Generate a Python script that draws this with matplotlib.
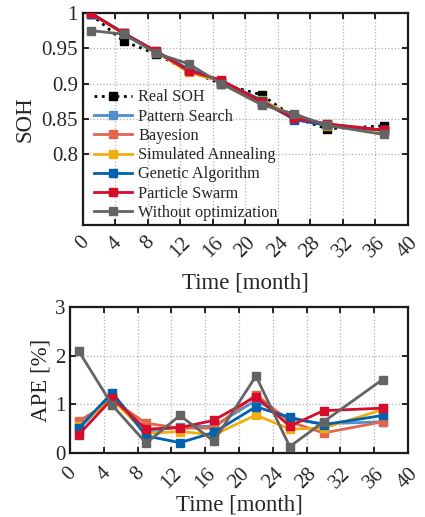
import numpy as np
import matplotlib
matplotlib.use('Agg')
import matplotlib.pyplot as plt

plt.rcParams['font.family'] = ['Liberation Serif', 'DejaVu Serif']
plt.rcParams['text.color'] = '#262626'
plt.rcParams['axes.labelcolor'] = '#262626'
plt.rcParams['xtick.labelcolor'] = '#262626'
plt.rcParams['ytick.labelcolor'] = '#262626'

months = [1, 5, 9, 13, 17, 22, 26, 30, 37]

names = ['Pattern Search', 'Bayesion', 'Simulated Annealing',
         'Genetic Algorithm', 'Particle Swarm', 'Without optimization']
colors = ['#4d8fd1', '#e0674f', '#f2ae10', '#0061ad', '#d50d2b', '#646464']

soh_real = [0.998, 0.960, 0.942, 0.918, 0.900, 0.884, 0.852, 0.836, 0.840]
soh_pred = [
    [0.999, 0.972, 0.944, 0.921, 0.902, 0.874, 0.850, 0.841, 0.834],  # pattern search
    [0.999, 0.971, 0.946, 0.920, 0.903, 0.873, 0.852, 0.843, 0.834],  # bayesion
    [0.999, 0.971, 0.945, 0.916, 0.903, 0.877, 0.853, 0.840, 0.833],  # simulated annealing
    [0.999, 0.972, 0.945, 0.920, 0.904, 0.876, 0.849, 0.841, 0.834],  # genetic algorithm
    [1.000, 0.971, 0.946, 0.918, 0.905, 0.874, 0.851, 0.843, 0.834],  # particle swarm
    [0.975, 0.970, 0.943, 0.928, 0.900, 0.870, 0.857, 0.841, 0.828],  # without optimization
]

ape = [
    [0.48, 1.20, 0.44, 0.54, 0.55, 1.08, 0.70, 0.60, 0.64],
    [0.65, 1.08, 0.61, 0.51, 0.51, 1.20, 0.64, 0.41, 0.64],
    [0.55, 1.10, 0.40, 0.44, 0.37, 0.78, 0.49, 0.51, 0.89],
    [0.51, 1.24, 0.35, 0.21, 0.42, 0.95, 0.73, 0.58, 0.77],
    [0.37, 1.12, 0.49, 0.52, 0.67, 1.16, 0.55, 0.87, 0.92],
    [2.10, 0.98, 0.20, 0.77, 0.24, 1.58, 0.13, 0.64, 1.51],
]

xticks = list(range(0, 41, 4))

fig = plt.figure(figsize=(4.25, 5.17), dpi=100)
ax1 = fig.add_axes([0.195, 0.565, 0.765, 0.41])
ax2 = fig.add_axes([0.165, 0.124, 0.795, 0.282])

lw = 2.0
ms = 5.5

ax1.plot(months, soh_real, ':', color='black', lw=2.0, marker='s', ms=ms,
         label='Real SOH', zorder=3)
for y, c, n in zip(soh_pred, colors, names):
    ax1.plot(months, y, '-', color=c, lw=lw, marker='s', ms=ms, label=n, zorder=3)

for y, c, n in zip(ape, colors, names):
    ax2.plot(months, y, '-', color=c, lw=lw, marker='s', ms=ms, label=n, zorder=3)

for ax in (ax1, ax2):
    ax.set_xlim(0, 40)
    ax.set_xticks(xticks)
    ax.set_xticklabels([str(t) for t in xticks], rotation=45, ha='center')
    ax.grid(True, color='#b0b0b0', ls=':', lw=0.9)
    ax.tick_params(direction='in', top=True, right=True, labelsize=15,
                   length=4, width=1.2)
    ax.tick_params(axis='x', pad=6)
    for s in ax.spines.values():
        s.set_linewidth(1.6)
        s.set_color('#1a1a1a')

ax1.set_xlabel('Time [month]', fontsize=16.5, labelpad=8)
ax2.set_xlabel('Time [month]', fontsize=16.5, labelpad=2)
ax2.tick_params(axis='x', pad=8)

ax1.set_ylim(0.7, 1.0)
ax1.set_yticks([0.8, 0.85, 0.9, 0.95, 1.0])
ax1.set_yticklabels(['0.8', '0.85', '0.9', '0.95', '1'])
ax1.set_ylabel('SOH', fontsize=16.5, labelpad=4)
ax1.legend(loc='lower left', bbox_to_anchor=(0.0, -0.035), frameon=False,
           fontsize=11.7, handlelength=2.3, handletextpad=0.4,
           labelspacing=0.2, borderaxespad=0.3)

ax2.set_ylim(0, 3)
ax2.set_yticks([0, 1, 2, 3])
ax2.set_ylabel('APE [%]', fontsize=16.5, labelpad=2)

fig.savefig('out.png', dpi=100)
